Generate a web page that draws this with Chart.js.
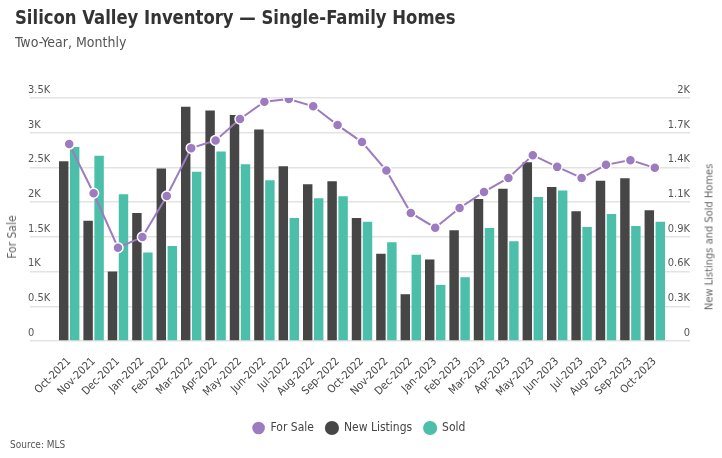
<!DOCTYPE html>
<html>
<head>
<meta charset="utf-8">
<script src="https://cdn.jsdelivr.net/npm/chart.js@4.4.0/dist/chart.umd.min.js"></script>
<style>
  html, body { margin: 0; padding: 0; background: #fff; }
  body { width: 722px; height: 458px; position: relative; overflow: hidden;
         font-family: "DejaVu Sans Condensed", "Liberation Sans Narrow", "Noto Sans", sans-serif; color: #444; }
  #wrap { position: absolute; left: 0; top: 0; width: 722px; height: 458px; }
  .title { position: absolute; left: 15px; top: 5px; font-size: 20px; font-weight: bold; color: #333; white-space: nowrap;
           transform: scaleX(0.915); transform-origin: 0 0; }
  .sub { position: absolute; left: 15px; top: 34px; font-size: 14px; color: #555; white-space: nowrap; }
  .src { position: absolute; left: 10px; top: 439px; font-size: 10px; color: #555; }
  .ytitle { position: absolute; top: 237px; font-size: 12px; font-weight: normal; color: #666; white-space: nowrap;
            transform: translate(-50%, -50%) rotate(-90deg); }
</style>
</head>
<body>
<div id="wrap"><canvas id="c" width="722" height="458"></canvas></div>
<div class="title">Silicon Valley Inventory — Single-Family Homes</div>
<div class="sub">Two-Year, Monthly</div>
<div class="ytitle" style="left:12px">For Sale</div>
<div class="ytitle" style="left:709px; font-size:11px">New Listings and Sold Homes</div>
<div class="src">Source: MLS</div>
<script>
var months = ['Oct-2021', 'Nov-2021', 'Dec-2021', 'Jan-2022', 'Feb-2022', 'Mar-2022', 'Apr-2022',
  'May-2022', 'Jun-2022', 'Jul-2022', 'Aug-2022', 'Sep-2022', 'Oct-2022', 'Nov-2022', 'Dec-2022',
  'Jan-2023', 'Feb-2023', 'Mar-2023', 'Apr-2023', 'May-2023', 'Jun-2023', 'Jul-2023', 'Aug-2023',
  'Sep-2023', 'Oct-2023'];

var forSale = [2836, 2128, 1343, 1497, 2089, 2778, 2889, 3197, 3447, 3486, 3380, 3110, 2865,
  2455, 1844, 1632, 1916, 2147, 2349, 2677, 2508, 2349, 2537, 2605, 2494];

var newListings = [1480, 990, 572, 1054, 1420, 1928, 1898, 1860, 1741, 1439, 1290, 1315, 1012,
  718, 385, 671, 911, 1169, 1254, 1472, 1268, 1067, 1318, 1340, 1076];

var sold = [1596, 1524, 1208, 729, 781, 1392, 1560, 1455, 1323, 1012, 1175, 1191, 982,
  812, 710, 462, 525, 930, 820, 1186, 1238, 938, 1045, 946, 982];

var leftTicks = [0, 500, 1000, 1500, 2000, 2500, 3000, 3500];
var leftTickLabels = ['0', '0.5K', '1K', '1.5K', '2K', '2.5K', '3K', '3.5K'];
var rightTicks = [0, 2000 / 7, 4000 / 7, 6000 / 7, 8000 / 7, 10000 / 7, 12000 / 7, 2000];
var rightTickLabels = ['0', '0.3K', '0.6K', '0.9K', '1.1K', '1.4K', '1.7K', '2K'];

var purple = '#9d7bc0';
var dark = '#464646';
var teal = '#4bbfa9';
var gridColor = '#e3e3e3';
var fontFamily = '"DejaVu Sans Condensed", "Liberation Sans Narrow", "Noto Sans", sans-serif';

Chart.defaults.font.family = fontFamily;
Chart.defaults.color = '#444';

var ctx = document.getElementById('c');
var chart = new Chart(ctx, {
  type: 'bar',
  data: {
    labels: months,
    datasets: [
      {
        type: 'line',
        label: 'For Sale',
        data: forSale,
        yAxisID: 'yL',
        borderColor: purple,
        backgroundColor: purple,
        borderWidth: 2,
        pointRadius: 5,
        pointBorderColor: '#fff',
        pointBorderWidth: 1.5,
        pointBackgroundColor: purple,
        tension: 0,
        order: 0
      },
      {
        label: 'New Listings',
        data: newListings,
        yAxisID: 'yR',
        backgroundColor: dark,
        categoryPercentage: 0.9,
        barPercentage: 0.86,
        order: 1
      },
      {
        label: 'Sold',
        data: sold,
        yAxisID: 'yR',
        backgroundColor: teal,
        categoryPercentage: 0.9,
        barPercentage: 0.86,
        order: 2
      }
    ]
  },
  options: {
    responsive: false,
    animation: false,
    layout: { padding: { top: 98, left: 28, right: 32, bottom: 14 } },
    plugins: {
      tooltip: { enabled: false },
      legend: {
        position: 'bottom',
        labels: {
          usePointStyle: true,
          boxHeight: 10,
          boxWidth: 14,
          padding: 12,
          color: '#444',
          font: { size: 12 }
        }
      }
    },
    scales: {
      x: {
        grid: { display: false },
        border: { display: false },
        ticks: { minRotation: 45, maxRotation: 45, autoSkip: false, padding: 6, font: { size: 11 }, color: '#444' },
        afterFit: function (s) { s.height = 69; }
      },
      yL: {
        position: 'left',
        min: 0,
        max: 3500,
        afterBuildTicks: function (s) { s.ticks = leftTicks.map(function (v) { return { value: v }; }); },
        ticks: {
          crossAlign: 'far',
          labelOffset: -8,
          font: { size: 11 },
          color: '#555',
          callback: function (v, i) { return leftTickLabels[i]; }
        },
        grid: { color: gridColor, tickLength: 27, tickColor: gridColor, lineWidth: 1.5 },
        border: { display: false },
        afterFit: function (s) { s.width = 29; }
      },
      yR: {
        position: 'right',
        min: 0,
        max: 2000,
        afterBuildTicks: function (s) { s.ticks = rightTicks.map(function (v) { return { value: v }; }); },
        ticks: {
          crossAlign: 'far',
          labelOffset: -8,
          font: { size: 11 },
          color: '#555',
          callback: function (v, i) { return rightTickLabels[i]; }
        },
        grid: { drawOnChartArea: false, tickLength: 23, tickColor: gridColor, lineWidth: 1.5 },
        border: { display: false },
        afterFit: function (s) { s.width = 23; }
      }
    }
  }
});
</script>
</body>
</html>
